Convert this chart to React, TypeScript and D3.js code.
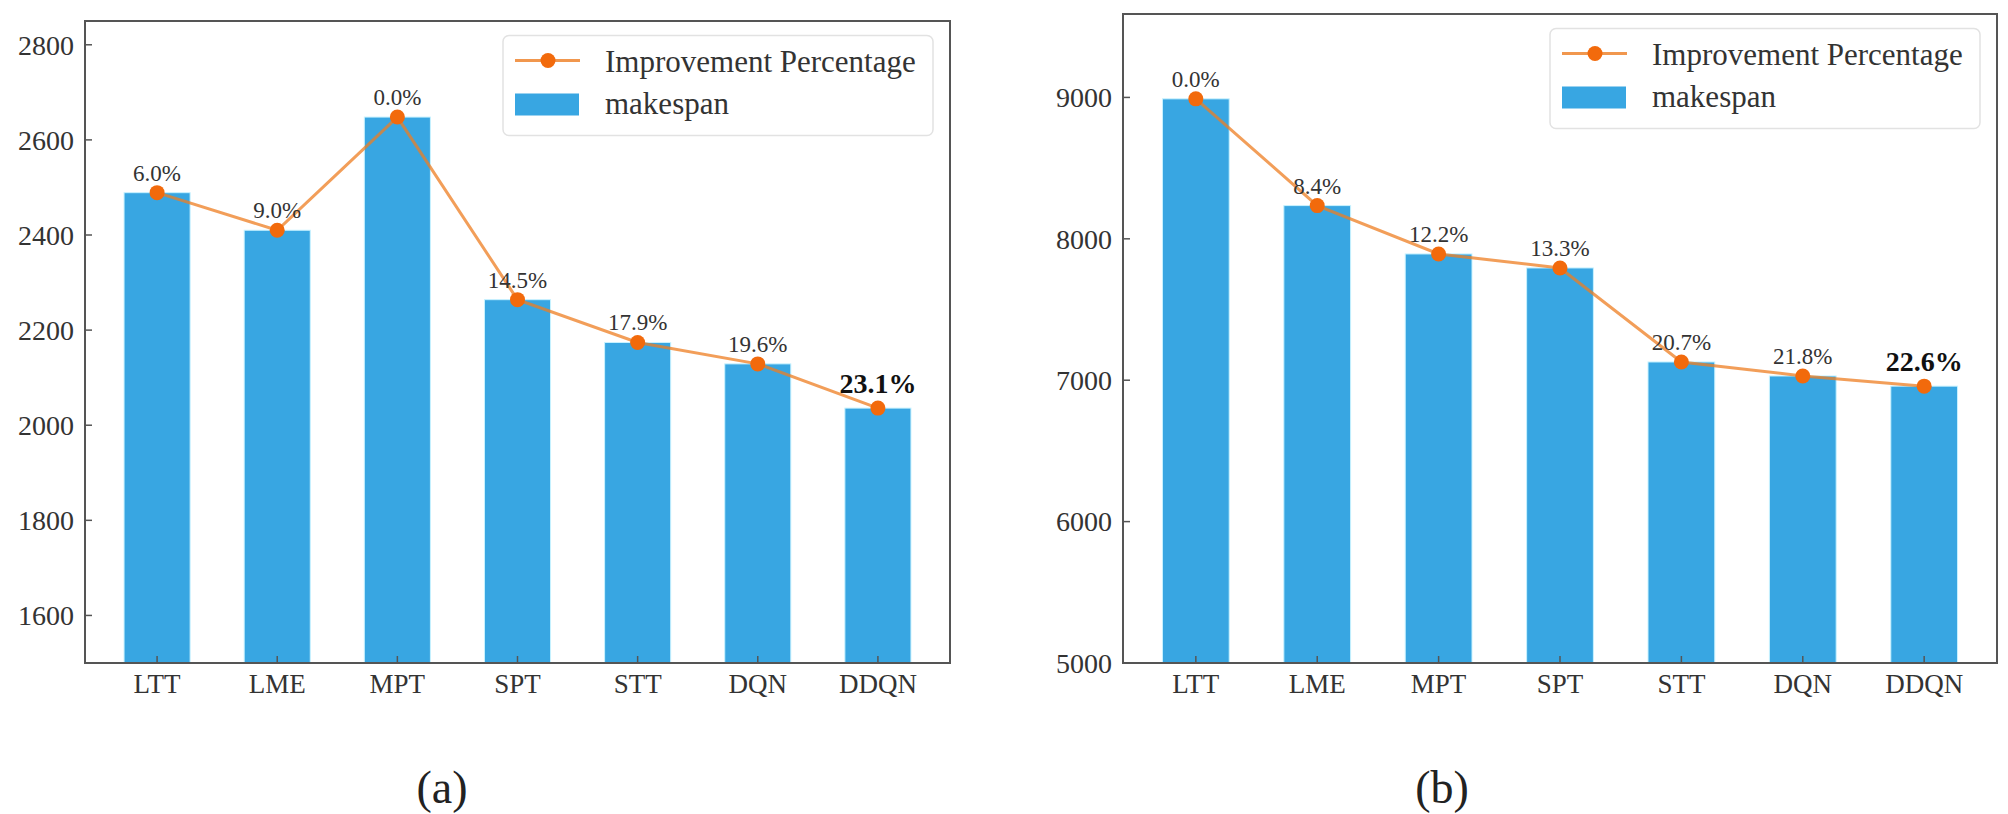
import React from "react";
import * as d3 from "d3";

const categories = ["LTT", "LME", "MPT", "SPT", "STT", "DQN", "DDQN"];

const makespanA = [2489, 2410, 2648, 2264, 2174, 2129, 2036];
const improvementA = [6.0, 9.0, 0.0, 14.5, 17.9, 19.6, 23.1];
const yTicksA = [1600, 1800, 2000, 2200, 2400, 2600, 2800];
const yDomainA = [1500, 2850];

const makespanB = [8990, 8235, 7893, 7794, 7129, 7030, 6958];
const improvementB = [0.0, 8.4, 12.2, 13.3, 20.7, 21.8, 22.6];
const yTicksB = [5000, 6000, 7000, 8000, 9000];
const yDomainB = [5000, 9590];

const legendLabels = ["Improvement Percentage", "makespan"];

const FONT = "'Liberation Serif', 'Times New Roman', serif";
const BAR = "#38A6E2";
const LINE = "#EE7D22";
const MARK = "#F26A0C";
const FRAME = "#555";

type PanelProps = {
  x0: number; x1: number; y0: number; y1: number;
  values: number[]; pct: number[]; ticks: number[]; domain: number[];
  caption: string; captionX: number;
};

function Panel({ x0, x1, y0, y1, values, pct, ticks, domain, caption, captionX }: PanelProps) {
  const x = d3.scaleLinear().domain([-0.6, categories.length - 0.4]).range([x0, x1]);
  const y = d3.scaleLinear().domain(domain).range([y1, y0]);
  const bw = x(0.55) - x(0);
  const line = d3.line<number>().x((_, i) => x(i)).y((v) => y(v));
  const last = values.length - 1;
  const bx = x1 - 17 - 430;
  const by = y0 + 14.5;
  return (
    <g>
      {values.map((v, i) => (
        <rect key={i} x={x(i) - bw / 2} y={y(v)} width={bw} height={y1 - y(v)}
          fill={BAR} stroke="#c8f2ff" strokeWidth={1} />
      ))}
      <path d={line(values) || ""} fill="none" stroke={LINE} strokeOpacity={0.75} strokeWidth={3} />
      {values.map((v, i) => (
        <circle key={i} cx={x(i)} cy={y(v)} r={7.5} fill={MARK} />
      ))}
      {values.map((v, i) => (
        <text key={i} x={x(i)} y={y(v) - (i === last ? 15 : 12)} textAnchor="middle"
          fontFamily={FONT} fontSize={i === last ? 28 : 23} fontWeight={i === last ? "bold" : "normal"}
          fill={i === last ? "#111" : "#333"}>
          {pct[i].toFixed(1) + "%"}
        </text>
      ))}
      {/* frame */}
      <rect x={x0} y={y0} width={x1 - x0} height={y1 - y0} fill="none" stroke={FRAME} strokeWidth={2} />
      {/* y ticks */}
      {ticks.map((t) => (
        <g key={t}>
          <line x1={x0} x2={x0 + 7} y1={y(t)} y2={y(t)} stroke={FRAME} strokeWidth={1.5} />
          <text x={x0 - 11} y={y(t)} dy="0.35em" textAnchor="end" fontFamily={FONT} fontSize={28} fill="#333">
            {t}
          </text>
        </g>
      ))}
      {/* x ticks */}
      {categories.map((c, i) => (
        <g key={c}>
          <line x1={x(i)} x2={x(i)} y1={y1} y2={y1 - 7} stroke={FRAME} strokeWidth={1.5} />
          <text x={x(i)} y={y1 + 30} textAnchor="middle" fontFamily={FONT} fontSize={27} fill="#333">
            {c}
          </text>
        </g>
      ))}
      {/* legend */}
      <rect x={bx} y={by} width={430} height={100} rx={6} fill="#fff" fillOpacity={0.8} stroke="#e2e2e2" strokeWidth={1.5} />
      <line x1={bx + 12} x2={bx + 77} y1={by + 25} y2={by + 25} stroke={LINE} strokeWidth={3} strokeOpacity={0.8} />
      <circle cx={bx + 45} cy={by + 25} r={7.5} fill={MARK} />
      <text x={bx + 102} y={by + 36} fontFamily={FONT} fontSize={31} fill="#333">{legendLabels[0]}</text>
      <rect x={bx + 12} y={by + 58} width={64} height={22} fill={BAR} />
      <text x={bx + 102} y={by + 78} fontFamily={FONT} fontSize={31} fill="#333">{legendLabels[1]}</text>
      {/* caption */}
      <text x={captionX} y={803} textAnchor="middle" fontFamily={FONT} fontSize={46} fill="#222">{caption}</text>
    </g>
  );
}

export default function App() {
  return (
    <svg width={2008} height={814} style={{ position: "absolute", left: 0, top: 0, background: "#fff" }}>
      <rect width={2008} height={814} fill="#fff" />
      <Panel x0={85} x1={950} y0={21} y1={663} values={makespanA} pct={improvementA}
        ticks={yTicksA} domain={yDomainA} caption="(a)" captionX={442} />
      <Panel x0={1123} x1={1997} y0={14} y1={663} values={makespanB} pct={improvementB}
        ticks={yTicksB} domain={yDomainB} caption="(b)" captionX={1442} />
    </svg>
  );
}
